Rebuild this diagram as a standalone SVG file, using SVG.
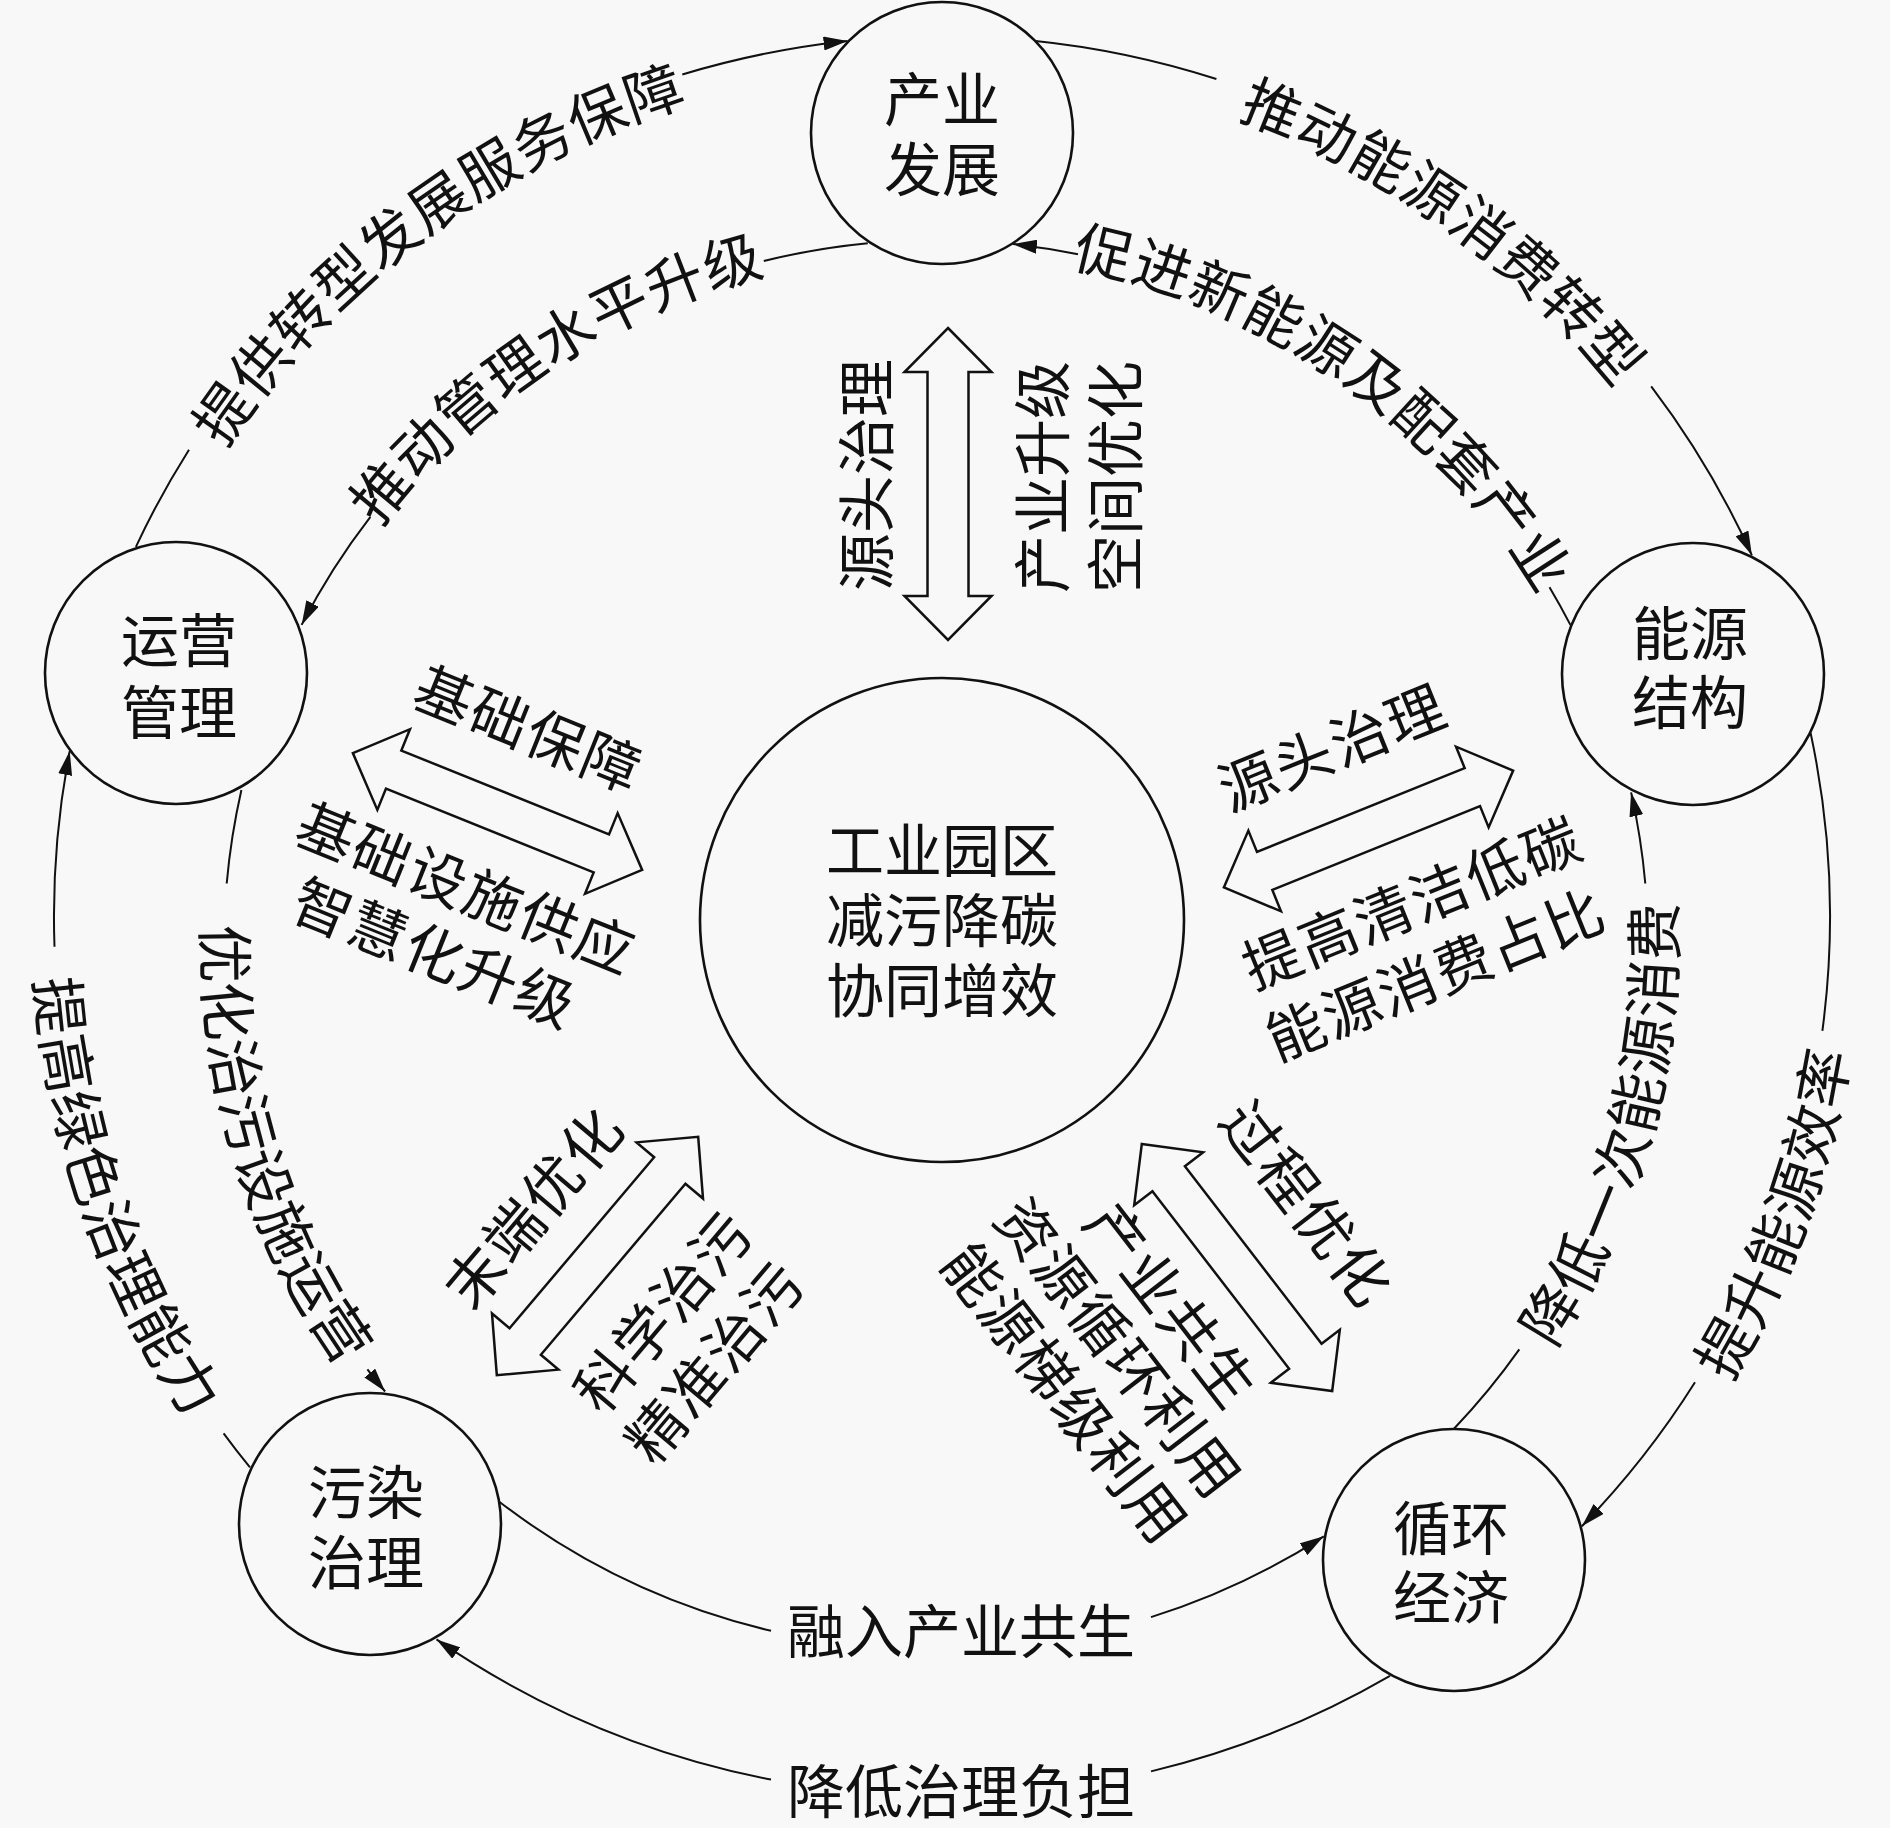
<svg xmlns="http://www.w3.org/2000/svg" xmlns:xlink="http://www.w3.org/1999/xlink" width="1890" height="1828" viewBox="0 0 1890 1828">
<style>
.bg{fill:#f8f8f8}
.node{fill:#f8f8f8;stroke:#111;stroke-width:2.6}
.t{font-family:"Liberation Serif","Noto Sans CJK SC",serif;font-size:58px;fill:#111;text-anchor:middle;dominant-baseline:central}
.ls{letter-spacing:2px}
.cl{font-family:"Liberation Serif","Noto Sans CJK SC",serif;font-size:58px;fill:#111;text-anchor:middle;letter-spacing:1px}
.conn{fill:none;stroke:#111;stroke-width:2;marker-end:url(#ah)}
.dbl{fill:#f8f8f8;stroke:#111;stroke-width:2.5;stroke-linejoin:miter}
.tp{fill:none;stroke:none}
</style>
<defs>
<marker id="ah" viewBox="0 0 24 14" refX="24" refY="7" markerWidth="24" markerHeight="14" markerUnits="userSpaceOnUse" orient="auto">
<path d="M0,0 L24,7 L0,14 z" fill="#111"/>
</marker>
<polygon id="dbl" points="-156,0 -112,-43.5 -112,-20.5 112,-20.5 112,-43.5 156,0 112,43.5 112,20.5 -112,20.5 -112,43.5"/>
<path id="tp1" class="tp" d="M126.0,653.3 A858,850 0 0 1 912.1,66.5"/>
<path id="tp2" class="tp" d="M957.0,66.2 A858,850 0 0 1 1753.2,639.2"/>
<path id="tp3" class="tp" d="M1472.5,1658.7 A918,910 0 0 0 1827.5,675.9"/>
<path id="tp5" class="tp" d="M68.2,667.7 A909,901 0 0 0 407.7,1644.9"/>
<path id="tp6" class="tp" d="M286.6,691.7 A698,691 0 0 1 954.3,254.2"/>
<path id="tp7" class="tp" d="M942.1,254.0 A698,691 0 0 1 1593.9,714.3"/>
<path id="tp8" class="tp" d="M1411.7,1506.5 A740,733 0 0 0 1631.4,694.3"/>
<path id="tp10" class="tp" d="M238.8,720.7 A733,726 0 0 0 484.7,1517.1"/>
</defs>
<rect class="bg" x="0" y="0" width="1890" height="1828"/>

<g id="connectors">
<path class="conn" d="M135.9,546.8 A888,880 0 0 1 189.0,449.7 M682.3,74.5 A888,880 0 0 1 847.6,41.0"/>
<path class="conn" d="M1033.3,40.7 A888,880 0 0 1 1216.4,79.0 M1651.2,386.4 A888,880 0 0 1 1751.9,555.3"/>
<path class="conn" d="M1810.6,733.0 A888,880 0 0 1 1822.4,1030.8 M1695.0,1382.3 A888,880 0 0 1 1581.9,1526.2"/>
<path class="conn" d="M1390.0,1675.8 A888,880 0 0 1 1151.0,1771.4 M771.0,1779.6 A888,880 0 0 1 436.5,1639.4"/>
<path class="conn" d="M250.0,1467.4 A888,880 0 0 1 223.6,1433.3 M54.5,946.7 A888,880 0 0 1 69.7,751.1"/>
<path class="conn" d="M867.8,243.2 A712,705 0 0 0 763.8,261.0 M370.4,516.8 A712,705 0 0 0 301.6,624.9"/>
<path class="conn" d="M1570.4,624.9 A712,705 0 0 0 1549.5,587.2 M1078.0,254.2 A712,705 0 0 0 1012.9,244.1"/>
<path class="conn" d="M1454.2,1428.5 A712,705 0 0 0 1519.3,1349.4 M1645.3,883.5 A712,705 0 0 0 1631.1,792.4"/>
<path class="conn" d="M498.6,1501.2 A712,705 0 0 0 771.0,1630.8 M1151.0,1617.1 A712,705 0 0 0 1323.8,1536.3"/>
<path class="conn" d="M241.4,790.0 A712,705 0 0 0 226.7,883.5 M367.4,1369.3 A712,705 0 0 0 385.1,1391.5"/>

<text class="cl"><textPath xlink:href="#tp1" href="#tp1" startOffset="50%">提供转型发展服务保障</textPath></text>
<text class="cl"><textPath xlink:href="#tp2" href="#tp2" startOffset="50%">推动能源消费转型</textPath></text>
<text class="cl"><textPath xlink:href="#tp3" href="#tp3" startOffset="50%">提升能源效率</textPath></text>
<text class="t" x="961" y="1793">降低治理负担</text>
<text class="cl"><textPath xlink:href="#tp5" href="#tp5" startOffset="50%">提高绿色治理能力</textPath></text>
<text class="cl"><textPath xlink:href="#tp6" href="#tp6" startOffset="50%">推动管理水平升级</textPath></text>
<text class="cl"><textPath xlink:href="#tp7" href="#tp7" startOffset="50%">促进新能源及配套产业</textPath></text>
<text class="cl"><textPath xlink:href="#tp8" href="#tp8" startOffset="50%">降低一次能源消费</textPath></text>
<text class="t" x="961" y="1633">融入产业共生</text>
<text class="cl"><textPath xlink:href="#tp10" href="#tp10" startOffset="50%">优化治污设施运营</textPath></text>
</g>

<g id="link-top">
<use class="dbl" href="#dbl" xlink:href="#dbl" transform="translate(948,484) rotate(90)"/>
<text class="t" transform="translate(868,475) rotate(-90)">源头治理</text>
<text class="t" transform="translate(1044,477) rotate(-90)">产业升级</text>
<text class="t" transform="translate(1117,477) rotate(-90)">空间优化</text>
</g>

<g id="link-left" transform="translate(497.5,811.5) rotate(22)">
<use class="dbl" href="#dbl" xlink:href="#dbl"/>
<text class="t ls" x="-2" y="-86">基础保障</text>
<text class="t ls" x="0" y="85">基础设施供应</text>
<text class="t ls" x="-5" y="157">智慧化升级</text>
</g>

<g id="link-right" transform="translate(1368.5,829) rotate(-22)">
<use class="dbl" href="#dbl" xlink:href="#dbl"/>
<text class="t ls" x="-3" y="-87">源头治理</text>
<text class="t ls" x="13" y="87">提高清洁低碳</text>
<text class="t ls" x="8" y="162">能源消费占比</text>
</g>

<g id="link-lowleft" transform="translate(597.5,1256) rotate(-49.8)">
<use class="dbl" href="#dbl" xlink:href="#dbl"/>
<text class="t ls" x="-4" y="-78">末端优化</text>
<text class="t ls" x="0" y="88">科学治污</text>
<text class="t ls" x="-5" y="160">精准治污</text>
</g>

<g id="link-lowright" transform="translate(1237,1267.5) rotate(52.4)">
<use class="dbl" href="#dbl" xlink:href="#dbl"/>
<text class="t ls" x="-8" y="-92">过程优化</text>
<text class="t ls" x="-10" y="77">产业共生</text>
<text class="t ls" x="-8" y="145">资源循环利用</text>
<text class="t ls" x="-5" y="215">能源梯级利用</text>
</g>

<g id="node-industry">
<circle class="node" cx="942" cy="133" r="131"/>
<text class="t"><tspan x="942" y="101">产业</tspan><tspan x="942" y="171">发展</tspan></text>
</g>
<g id="node-management">
<circle class="node" cx="176" cy="673" r="131"/>
<text class="t"><tspan x="179" y="642">运营</tspan><tspan x="179" y="714">管理</tspan></text>
</g>
<g id="node-energy">
<circle class="node" cx="1693" cy="674" r="131"/>
<text class="t"><tspan x="1690" y="635">能源</tspan><tspan x="1690" y="704">结构</tspan></text>
</g>
<g id="node-pollution">
<circle class="node" cx="370" cy="1524" r="131"/>
<text class="t"><tspan x="366" y="1494">污染</tspan><tspan x="366" y="1564">治理</tspan></text>
</g>
<g id="node-circular">
<circle class="node" cx="1454" cy="1560" r="131"/>
<text class="t"><tspan x="1451" y="1530">循环</tspan><tspan x="1451" y="1599">经济</tspan></text>
</g>
<g id="node-center">
<circle class="node" cx="942" cy="920" r="242"/>
<text class="t"><tspan x="942" y="852">工业园区</tspan><tspan x="942" y="922">减污降碳</tspan><tspan x="942" y="992">协同增效</tspan></text>
</g>
</svg>
